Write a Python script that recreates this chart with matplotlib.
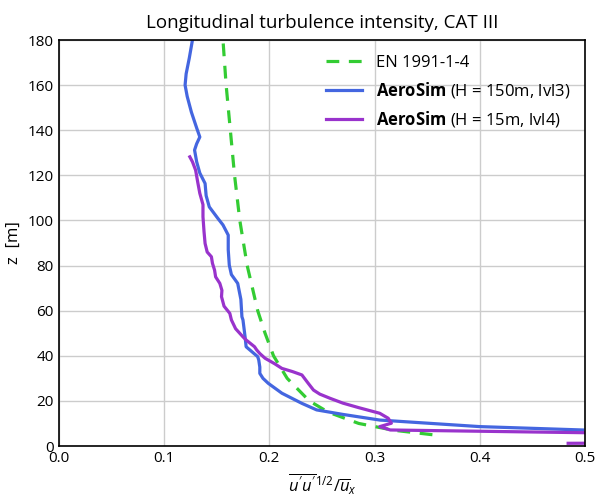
import numpy as np
import matplotlib.pyplot as plt

plt.rcParams['font.family'] = ['Open Sans', 'DejaVu Sans']
plt.rcParams['mathtext.fontset'] = 'custom'
plt.rcParams['mathtext.rm'] = 'Open Sans'
plt.rcParams['mathtext.it'] = 'Open Sans:italic'
plt.rcParams['mathtext.bf'] = 'Open Sans:bold'

# EN 1991-1-4 profile, category III
z_en = [5, 7, 10, 15, 20, 30, 40, 50, 60, 80, 100, 120, 140, 160, 180]
I_en = [0.355, 0.318, 0.285, 0.256, 0.238, 0.217, 0.204, 0.196, 0.189,
        0.179, 0.172, 0.167, 0.163, 0.159, 0.156]

# AeroSim H = 150m, lvl3
z_150 = [7.1, 8.6, 11.5, 14.0, 16.0, 18.9, 23.4, 27.8, 30.0, 32.2, 35.0, 38.1,
         39.6, 42.0, 44.0, 48.4, 55.9, 57.3, 65.0, 72.1, 76.0, 80.2, 87.0,
         93.5, 98.0, 101.0, 106.0, 111.0, 116.4, 121.0, 126.0, 131.2, 134.0,
         137.0, 141.0, 148.0, 155.0, 160.0, 165.0, 172.0, 180.0]
I_150 = [0.498, 0.400, 0.305, 0.270, 0.245, 0.231, 0.212, 0.199, 0.194, 0.191,
         0.191, 0.190, 0.189, 0.183, 0.178, 0.177, 0.175, 0.174, 0.173, 0.170,
         0.164, 0.162, 0.161, 0.161, 0.156, 0.151, 0.143, 0.140, 0.139, 0.134,
         0.131, 0.129, 0.131, 0.134, 0.131, 0.126, 0.122, 0.120, 0.121, 0.124,
         0.127]

# AeroSim H = 15m, lvl4
z_15 = [1.2, 1.3, 3.0, 5.9, 5.9, 7.1, 8.6, 10.1, 12.3, 14.5, 17.0, 19.0, 21.1,
        23.0, 24.8, 27.8, 31.5, 33.0, 34.4, 36.5, 38.9, 41.0, 42.6, 44.0, 47.0,
        48.4, 52.0, 55.9, 58.8, 62.0, 66.2, 69.0, 72.1, 75.0, 78.0, 81.0, 83.9,
        86.0, 89.8, 95.0, 101.6, 107.0, 112.0, 117.0, 122.3, 126.0, 128.2]
I_15 = [0.484, 0.55, 0.70, 0.60, 0.498, 0.315, 0.305, 0.316, 0.313, 0.305,
        0.285, 0.270, 0.258, 0.248, 0.242, 0.237, 0.231, 0.222, 0.212, 0.205,
        0.196, 0.191, 0.188, 0.186, 0.178, 0.175, 0.168, 0.164, 0.1625, 0.157,
        0.1546, 0.155, 0.153, 0.149, 0.148, 0.146, 0.145, 0.141, 0.139, 0.138,
        0.137, 0.137, 0.134, 0.132, 0.130, 0.127, 0.1245]

fig = plt.figure(figsize=(6, 5), dpi=100)
ax = fig.add_axes([0.098, 0.108, 0.877, 0.812])

ax.plot(I_en, z_en, color='#33cc33', linestyle=(0, (4, 3)), linewidth=2.3,
        label='EN 1991-1-4')
ax.plot(I_150, z_150, color='#4466e0', linewidth=2.3,
        label=r'$\mathbf{AeroSim}$ (H = 150m, lvl3)')
ax.plot(I_15, z_15, color='#9933cc', linewidth=2.3,
        label=r'$\mathbf{AeroSim}$ (H = 15m, lvl4)')

ax.set_xlim(0, 0.5)
ax.set_ylim(0, 180)
ax.set_xticks(np.arange(0, 0.51, 0.1))
ax.set_yticks(np.arange(0, 181, 20))
ax.tick_params(length=0, labelsize=11)
ax.grid(True, color='#cccccc', linewidth=1)
ax.set_axisbelow(True)
for s in ax.spines.values():
    s.set_color('black')
    s.set_linewidth(1.2)

ax.set_xlabel(r"$\overline{u'u'}^{1/2}/\overline{u}_x$", fontsize=12)
ax.set_ylabel('z  [m]', fontsize=12)
ax.set_title('Longitudinal turbulence intensity, CAT III', fontsize=13.5, pad=9)

ax.legend(loc='upper right', frameon=False, fontsize=12, handlelength=2.2,
          borderaxespad=0.5, labelspacing=0.55)

fig.savefig('out.png', dpi=100)
